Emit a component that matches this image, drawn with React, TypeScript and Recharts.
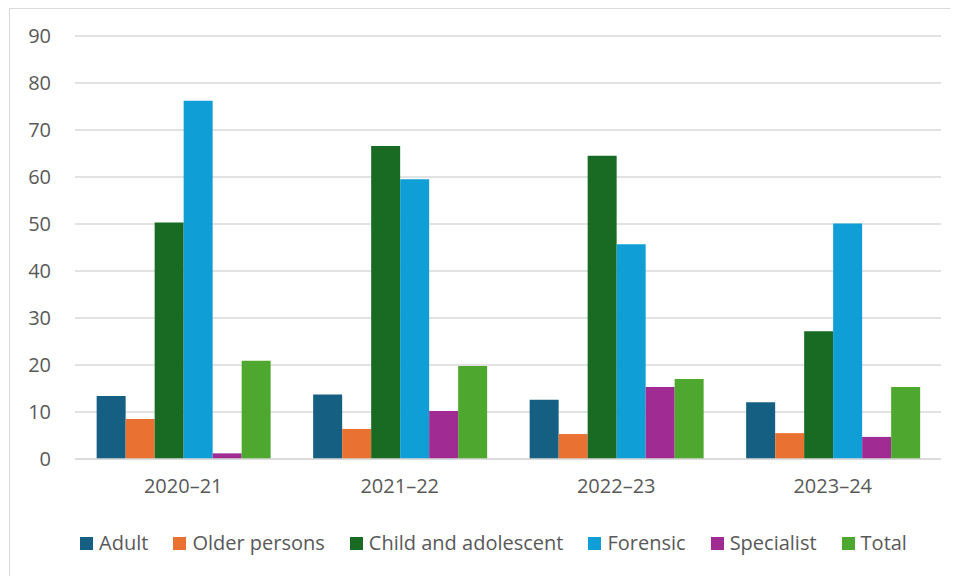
import { BarChart, Bar, XAxis, YAxis, CartesianGrid, Legend } from 'recharts';

const years = ['2020–21', '2021–22', '2022–23', '2023–24'];
const adult = [13.4, 13.7, 12.6, 12.1];
const olderPersons = [8.5, 6.4, 5.3, 5.5];
const childAdolescent = [50.3, 66.6, 64.5, 27.2];
const forensic = [76.2, 59.5, 45.7, 50.1];
const specialist = [1.2, 10.2, 15.3, 4.7];
const total = [20.9, 19.8, 17.0, 15.3];
const yTicks = [0, 10, 20, 30, 40, 50, 60, 70, 80, 90];

const series = [
  { key: 'adult', name: 'Adult', color: '#156082' },
  { key: 'older', name: 'Older persons', color: '#E97132' },
  { key: 'child', name: 'Child and adolescent', color: '#196B24' },
  { key: 'forensic', name: 'Forensic', color: '#0F9ED5' },
  { key: 'specialist', name: 'Specialist', color: '#A02B93' },
  { key: 'total', name: 'Total', color: '#4EA72E' },
];

const chartData = years.map((y, i) => ({
  year: y,
  adult: adult[i],
  older: olderPersons[i],
  child: childAdolescent[i],
  forensic: forensic[i],
  specialist: specialist[i],
  total: total[i],
}));

const FONT = '"Open Sans", sans-serif';
const TEXT = '#595959';
const GRID = '#D9D9D9';

function LegendBox() {
  return (
    <div style={{ display: 'flex', justifyContent: 'center', gap: 25, paddingLeft: 36, fontFamily: FONT, fontSize: 20, color: TEXT, lineHeight: '26px' }}>
      {series.map(s => (
        <div key={s.key} style={{ display: 'flex', alignItems: 'center', gap: 6 }}>
          <span style={{ width: 13, height: 13, background: s.color, display: 'inline-block' }} />
          <span>{s.name}</span>
        </div>
      ))}
    </div>
  );
}

export default function App() {
  return (
    <div style={{ marginLeft: 1, width: 960, height: 580, borderTop: `1.5px solid ${GRID}`, borderLeft: `1.5px solid ${GRID}`, boxSizing: 'border-box' }}>
      <BarChart width={948} height={566} data={chartData} margin={{ top: 27, right: 17, bottom: 60, left: 0 }}
        barCategoryGap="10%" barGap={0}>
        <CartesianGrid vertical={false} stroke={GRID} strokeWidth={1.5} />
        <XAxis dataKey="year" axisLine={{ stroke: GRID, strokeWidth: 1.5 }} tickLine={false} tickSize={0} tickMargin={20}
          tick={{ fill: TEXT, fontSize: 20, fontFamily: FONT }} />
        <YAxis domain={[0, 90]} ticks={yTicks} width={65} axisLine={false} tickLine={false} tickSize={0} tickMargin={24}
          tick={{ fill: TEXT, fontSize: 20, fontFamily: FONT }} />
        <Legend verticalAlign="bottom" wrapperStyle={{ top: 521 }} content={() => <LegendBox />} />
        {series.map(s => (
          <Bar key={s.key} dataKey={s.key} name={s.name} fill={s.color} isAnimationActive={false} />
        ))}
      </BarChart>
    </div>
  );
}
